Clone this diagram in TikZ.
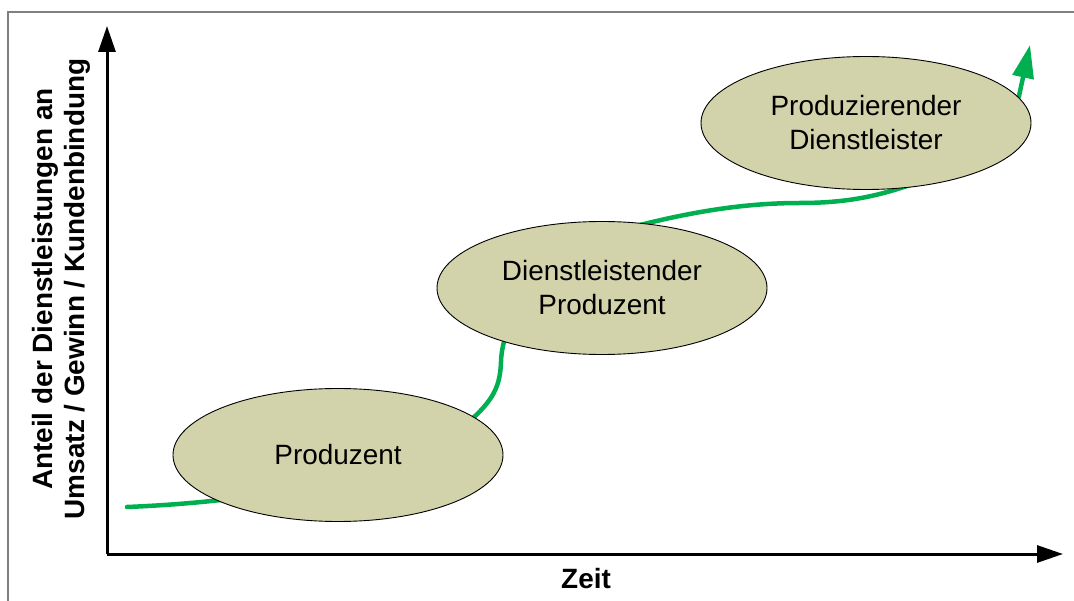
\documentclass[tikz,border=0pt]{standalone}
\usepackage{fontspec}
\setmainfont{Liberation Sans}
\usetikzlibrary{shapes.geometric,arrows.meta}
\definecolor{phasefill}{RGB}{210,211,171}
\definecolor{trendgreen}{RGB}{0,176,80}
\definecolor{framegray}{RGB}{128,128,128}
\begin{document}
\begin{tikzpicture}[x=1pt,y=-1pt,
  axis/.style={line width=3pt,-{Triangle[length=26pt,width=17pt]}},
  trend/.style={line width=4.5pt,trendgreen,line cap=round,
    -{Triangle[length=33pt,width=21pt]}},
  phase/.style={ellipse,draw=black,line width=0.9pt,fill=phasefill,
    minimum width=330pt,minimum height=133pt,inner sep=0pt,align=center,
    font=\fontsize{27.9}{34}\selectfont},
  label/.style={font=\fontsize{27.9}{32}\selectfont\bfseries,align=center}]
  \useasboundingbox (0,0) rectangle (1074,601);
  % outer frame (only top and left edges fall inside the page)
  \draw[framegray,line width=1.5pt] (8,12) rectangle (1090,620);
  % axes
  \coordinate (origin) at (107,554);
  \coordinate (ytip) at (107,26);
  \coordinate (xtip) at (1063,554);
  \draw[axis] (origin) -- (ytip);
  \draw[axis] (origin) -- (xtip);
  % growth curve
  \coordinate (cstart) at (127,507);
  \coordinate (cend) at (1030,45);
  \draw[trend] (cstart) .. controls (250,502) and (400,480) .. (465,425)
    .. controls (495,400) and (500,385) .. (501,362)
    .. controls (502,320) and (540,250) .. (640,225)
    .. controls (700,210) and (750,203) .. (800,203)
    .. controls (850,203) and (880,195) .. (910,185)
    .. controls (980,160) and (1005,125) .. (1019,96)
    -- (cend);
  % phases
  \node[phase] (p1) at (338,455) {Produzent};
  \node[phase] (p2) at (602,288) {Dienstleistender\\Produzent};
  \node[phase] (p3) at (866,123) {Produzierender\\Dienstleister};
  % axis labels
  \node[label,rotate=90] (ylab) at (61,289) {Anteil der Dienstleistungen an\\Umsatz / Gewinn / Kundenbindung};
  \node[label,anchor=base] (xlab) at (586,588) {Zeit};
\end{tikzpicture}
\end{document}
